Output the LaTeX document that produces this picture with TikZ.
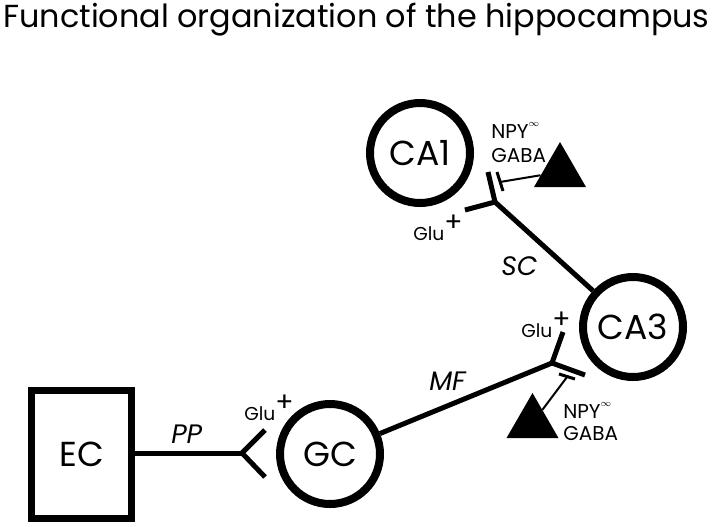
\documentclass[tikz,border=0pt]{standalone}
\usepackage{fontspec}
\setmainfont{Poppins}
\usetikzlibrary{shapes.geometric}

\tikzset{
  region/.style={circle,draw,line width=6pt,minimum size=75pt,inner sep=0pt,font=\fontsize{26}{26}\selectfont},
  cortex/.style={rectangle,draw,line width=5.25pt,minimum width=75pt,minimum height=96pt,inner sep=0pt,font=\fontsize{26}{26}\selectfont},
  axon/.style={line width=3.75pt},
  inhib/.style={line width=1.5pt},
  tbar/.style={line width=2.25pt},
  interneuron/.style={regular polygon,regular polygon sides=3,fill=black,inner sep=0pt,minimum size=45pt},
  tract/.style={font=\fontsize{20}{20}\selectfont\itshape,inner sep=0pt},
  transmitter/.style={font=\fontsize{15}{15}\selectfont,inner sep=0pt},
  glu/.style={font=\fontsize{14}{14}\selectfont,inner sep=0pt}
}
\newcommand{\gluplus}{Glu\raisebox{6.5pt}{\fontsize{20}{20}\selectfont +}}
\newcommand{\npylabel}{NPY\raisebox{9pt}{\fontsize{7}{7}\selectfont$\infty$}}

\begin{document}
\begin{tikzpicture}[x=0.75pt,y=-0.75pt]
\useasboundingbox (0,0) rectangle (720,526);
%\draw[step=20,gray,very thin] (0,0) grid (720,526); %background grid

\node[anchor=base west,inner sep=0pt,font=\fontsize{23.9}{23.9}\selectfont] (title) at (3,27) {Functional organization of the hippocampus};

% regions
\node[cortex] (ec) at (81.5,454.5) {EC};
\node[region] (gc) at (330,454) {GC};
\node[region] (ca3) at (633,327) {CA3};
\node[region] (ca1) at (420,153) {CA1};

% synapse points
\coordinate (ppfork) at (242,453);
\coordinate (ppup) at (265,430);
\coordinate (ppdown) at (265,477);
\coordinate (mffork) at (552,363);
\coordinate (mfup) at (563,332);
\coordinate (mfright) at (585,375);
\coordinate (scfork) at (495,202);
\coordinate (scup) at (488,172);
\coordinate (scleft) at (465,210);

% pathways
\draw[axon] (ec.east |- ppfork) -- (ppfork); %PP
\draw[axon] (ppup) -- (ppfork) -- (ppdown);
\draw[axon] (gc) -- (mffork); %MF
\draw[axon] (mfup) -- (mffork) -- (mfright);
\draw[axon] (ca3) -- (scfork); %SC
\draw[axon] (scup) -- (scfork) -- (scleft);

\node[tract,anchor=base west] (pp) at (171,443) {PP};
\node[tract,anchor=base west] (mf) at (429,390) {MF};
\node[tract,anchor=base west] (sc) at (501,275) {SC};

% interneurons
\node[interneuron] (inta) at (560,172) {};
\node[interneuron] (intb) at (532.5,423) {};
\coordinate (tbara) at (500,182);
\coordinate (tbarb) at (567,377);
\draw[tbar] (497,172) -- (503,191);
\draw[tbar] (559,374) -- (575,379);
\draw[inhib] (inta) -- (tbara);
\draw[inhib] (intb) -- (tbarb);

% transmitters
\node[glu,anchor=base west] (glugc) at (244,420) {\gluplus};
\node[glu,anchor=base west] (gluca3) at (521,337) {\gluplus};
\node[glu,anchor=base west] (gluca1) at (413,240) {\gluplus};

\node[transmitter,anchor=base west] (npya) at (491,138) {\npylabel};
\node[transmitter,anchor=base west] (gabaa) at (491,162) {GABA};
\node[transmitter,anchor=base west] (npyb) at (563,418) {\npylabel};
\node[transmitter,anchor=base west] (gabab) at (563,440) {GABA};

\end{tikzpicture}
\end{document}
